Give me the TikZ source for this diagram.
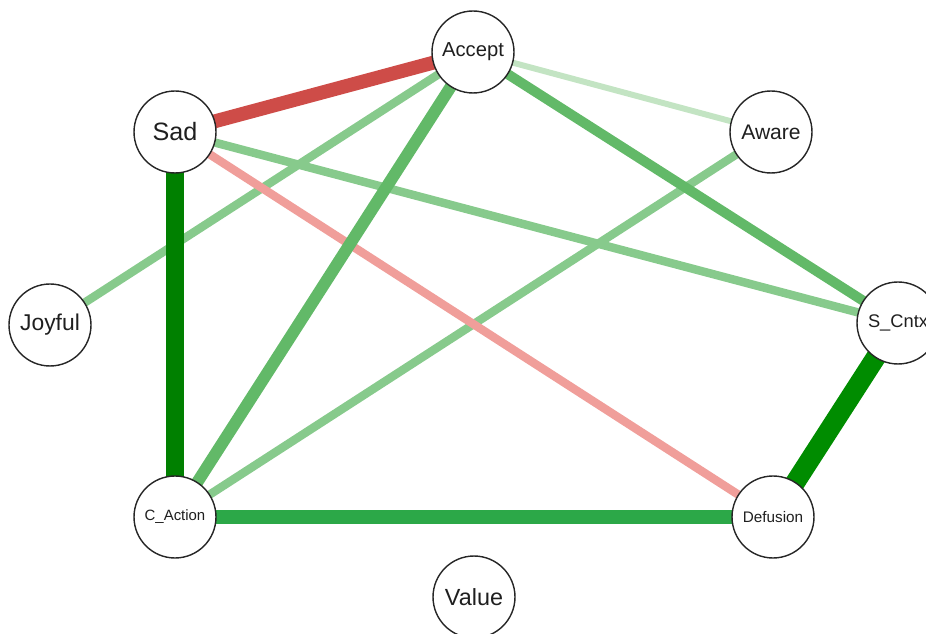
\documentclass[tikz,border=0pt]{standalone}
\usepackage{fontspec}
\setmainfont{Liberation Sans}
\usetikzlibrary{backgrounds}

\definecolor{negstrong}{RGB}{206,76,72}
\definecolor{negweak}{RGB}{240,158,154}
\definecolor{posdark}{RGB}{0,128,0}
\definecolor{posdeep}{RGB}{0,140,0}
\definecolor{posmid}{RGB}{44,168,72}
\definecolor{posfair}{RGB}{98,185,104}
\definecolor{poslight}{RGB}{135,202,140}
\definecolor{posfaint}{RGB}{195,228,195}

\tikzset{
	varnode/.style={circle, draw=black!85, line width=0.8pt, fill=white, minimum size=1.64cm, inner sep=0pt, text=black!88},
	wlink/.style={line cap=butt}
}

\begin{document}
\begin{tikzpicture}[x=0.02cm, y=-0.02cm]
			%%%%% START %%%%%
			
			\useasboundingbox (0, 0) rectangle (926, 634);
			
			\node[varnode, font=\fontsize{11.5}{12}\selectfont] (accept) at (473, 52) {Accept};
			\node[varnode, font=\fontsize{14.3}{15}\selectfont] (sad) at (175, 132) {Sad};
			\node[varnode, font=\fontsize{12}{13}\selectfont] (aware) at (771, 132) {Aware};
			\node[varnode, font=\fontsize{13}{14}\selectfont] (joyful) at (50, 325) {Joyful};
			\node[varnode, font=\fontsize{10.4}{11}\selectfont] (scntx) at (898, 323) {S\_Cntx};
			\node[varnode, font=\fontsize{8.5}{9}\selectfont] (caction) at (175, 517) {C\_Action};
			\node[varnode, font=\fontsize{8.7}{9}\selectfont] (defusion) at (773, 517) {Defusion};
			\node[varnode, font=\fontsize{13.3}{14}\selectfont] (value) at (474, 597) {Value};
			
			\begin{scope}[on background layer]
				\draw[wlink, line width=3.4pt, color=posfaint] (accept.center) -- (aware.center);
				\draw[wlink, line width=4.8pt, color=poslight] (accept.center) -- (joyful.center);
				\draw[wlink, line width=4.8pt, color=poslight] (sad.center) -- (scntx.center);
				\draw[wlink, line width=4.8pt, color=poslight] (aware.center) -- (caction.center);
				\draw[wlink, line width=4.8pt, color=negweak] (sad.center) -- (defusion.center);
				\draw[wlink, line width=5.7pt, color=posfair] (accept.center) -- (scntx.center);
				\draw[wlink, line width=6.8pt, color=posfair] (accept.center) -- (caction.center);
				\draw[wlink, line width=7.9pt, color=posmid] (caction.center) -- (defusion.center);
				\draw[wlink, line width=7.9pt, color=negstrong] (sad.center) -- (accept.center);
				\draw[wlink, line width=10.8pt, color=posdark] (sad.center) -- (caction.center);
				\draw[wlink, line width=11.3pt, color=posdeep] (scntx.center) -- (defusion.center);
			\end{scope}
			
			%%%%% END %%%%%
\end{tikzpicture}
\end{document}
